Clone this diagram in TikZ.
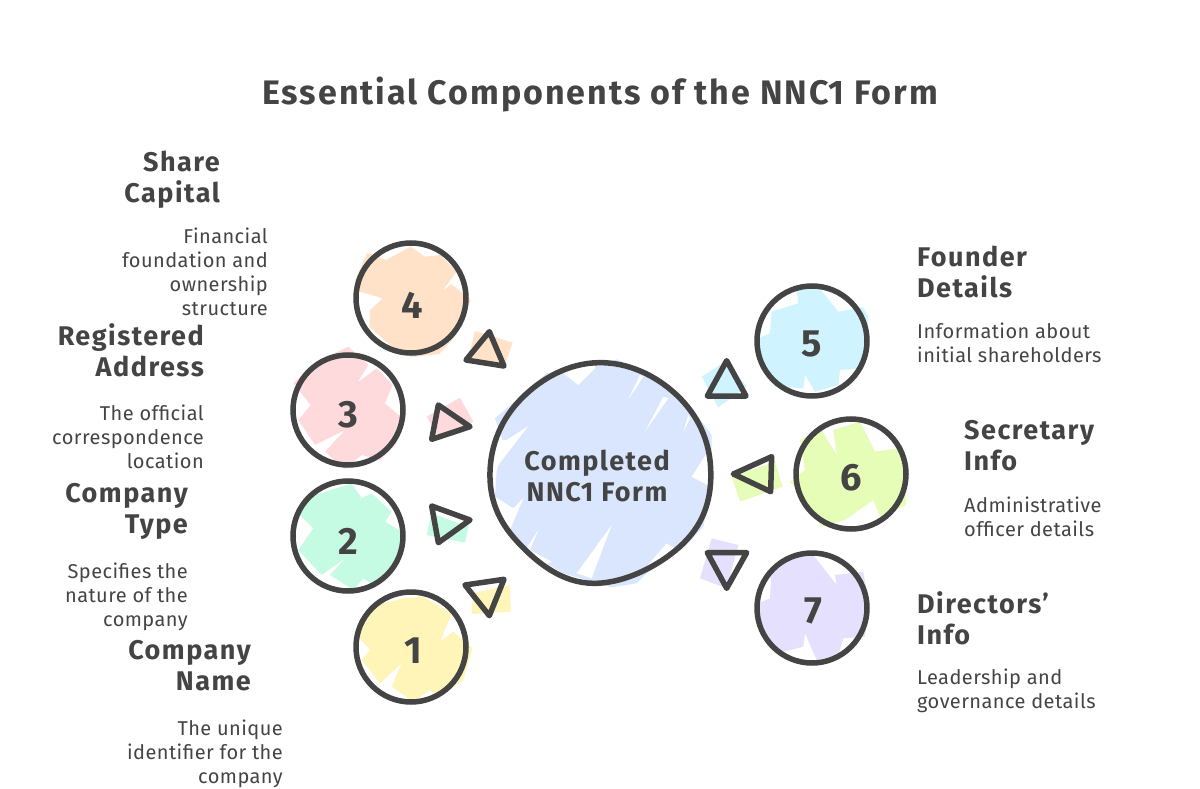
\documentclass[tikz,border=0pt]{standalone}
\usepackage{fontspec}
\setmainfont{Fira Sans}
\newfontfamily\titlefam[LetterSpace=5.8]{Fira Sans}
\newfontfamily\headfam[LetterSpace=5.5]{Fira Sans}
\newfontfamily\descfam[LetterSpace=2.2]{Fira Sans}
\definecolor{ink}{HTML}{444444}
\tikzset{
  ring/.style={circle,draw=ink,line width=5.5pt,inner sep=0pt,outer sep=0pt,minimum size=110pt},
  digit/.style={text=ink,font=\bfseries\fontsize{38}{38}\selectfont,inner sep=0pt},
  tri/.style={draw=ink,line width=5.5pt,line join=round},
  head/.style={text=ink,inner sep=0pt,font=\headfam\bfseries\fontsize{27}{31}\selectfont},
  desc/.style={text=ink,inner sep=0pt,font=\descfam\fontsize{20}{24}\selectfont},
  zone/.style n args={2}{shift={(#1,#2)},x=0.33333pt,y=-0.33333pt}
}
\begin{document}
\begin{tikzpicture}[x=1pt,y=-1pt]
\useasboundingbox (0,0) rectangle (1200,789);
% --- left upper zoom
\begin{scope}[zone={280}{230}]
\definecolor{p4}{HTML}{FFE2C8}\definecolor{p3}{HTML}{FFDADD}
\fill[p4] (262,68)--(318,90)--(392,50)--(435,80)--(480,75)--(530,125)--(488,182)--(515,162)--(572,210)--(550,270)--(525,320)--(478,372)--(395,382)--(330,345)--(268,290)--(270,240)--(308,205)--(240,185)--(225,150)--cycle;
\fill[p3] (205,350)--(265,405)--(232,458)--(290,415)--(338,465)--(315,520)--(368,565)--(350,640)--(300,690)--(245,675)--(195,718)--(135,665)--(195,600)--(105,645)--(55,570)--(92,525)--(40,460)--(80,420)--(120,390)--cycle;
\fill[p4] (585,303)--(698,338)--(670,418)--(565,385)--cycle;
\fill[p3] (440,560)--(540,503)--(580,575)--(480,630)--cycle;
\draw[tri] (628,305)--(672,408)--(558,390)--cycle;
\draw[tri] (475,525)--(570,590)--(455,628)--cycle;
\end{scope}
% --- left lower zoom
\begin{scope}[zone={280}{470}]
\definecolor{p2}{HTML}{C4FBE2}\definecolor{p1}{HTML}{FFF5B8}
\fill[p2] (90,80)--(215,40)--(245,85)--(275,70)--(335,125)--(315,155)--(365,185)--(350,290)--(280,345)--(250,325)--(220,360)--(150,315)--(195,265)--(125,315)--(55,240)--(100,175)--(50,125)--cycle;
\fill[p1] (290,405)--(370,385)--(430,380)--(515,430)--(480,515)--(520,485)--(578,535)--(550,630)--(480,680)--(450,660)--(400,695)--(335,650)--(365,580)--(300,640)--(245,570)--(270,540)--(235,500)--(260,450)--cycle;
\fill[p2] (455,130)--(565,170)--(555,218)--(440,195)--cycle;
\fill[p1] (578,370)--(690,345)--(692,425)--(575,432)--cycle;
\draw[tri] (455,108)--(570,150)--(475,218)--cycle;
\draw[tri] (555,345)--(672,328)--(628,437)--cycle;
\end{scope}
% --- right zoom
\begin{scope}[zone={690}{270}]
\definecolor{p5}{HTML}{CFF3FF}\definecolor{p6}{HTML}{E6FDB8}\definecolor{p7}{HTML}{E4E0FD}
\fill[p5] (320,62)--(385,50)--(445,125)--(520,112)--(535,140)--(525,260)--(505,295)--(450,300)--(445,345)--(375,365)--(345,315)--(340,355)--(255,350)--(215,285)--(205,205)--(240,190)--(245,125)--(325,100)--cycle;
\fill[p6] (330,510)--(395,480)--(440,555)--(430,480)--(510,455)--(555,545)--(625,535)--(645,620)--(648,705)--(570,740)--(550,690)--(465,750)--(395,770)--(345,690)--(300,635)--(345,600)--cycle;
\fill[p7] (370,855)--(440,945)--(435,915)--(520,905)--(535,1000)--(525,1100)--(460,1105)--(445,1155)--(380,1170)--(345,1090)--(340,1130)--(260,1150)--(215,1060)--(205,1000)--(240,985)--(245,895)--(320,855)--cycle;
\fill[p5] (35,320)--(110,272)--(170,350)--(85,412)--cycle;
\fill[p6] (125,620)--(255,575)--(278,650)--(150,695)--cycle;
\fill[p7] (65,805)--(145,825)--(110,955)--(30,925)--cycle;
\draw[tri] (110,272)--(168,378)--(52,378)--cycle;
\draw[tri] (245,560)--(242,665)--(130,612)--cycle;
\draw[tri] (52,848)--(170,848)--(110,955)--cycle;
\end{scope}
% --- centre
\begin{scope}[zone={480}{340}]
\definecolor{pm}{HTML}{D9E6FD}
\fill[pm] (45,235)--(120,170)--(200,100)--(250,90)--(345,75)--(410,58)--(435,70)--(560,130)--(640,210)--(695,285)--(695,445)--(670,560)--(610,625)--(500,700)--(470,730)--(395,742)--(250,700)--(130,630)--(80,570)--(45,470)--(50,395)--(70,305)--cycle;
\fill[white] (250,100)--(295,135)--(345,85)--(340,60)--(260,70)--cycle;
\fill[white] (490,110)--(445,178)--(480,105)--cycle;
\fill[white] (565,175)--(495,275)--(550,170)--cycle;
\fill[white] (630,235)--(610,275)--(625,225)--cycle;
\fill[white] (680,340)--(635,410)--(700,445)--(710,340)--cycle;
\fill[white] (145,258)--(80,300)--(40,300)--(40,395)--cycle;
\fill[white] (130,475)--(100,505)--(45,470)--(40,520)--(90,570)--cycle;
\fill[white] (175,570)--(150,630)--(215,665)--(180,680)--(130,640)--cycle;
\fill[white] (395,555)--(290,700)--(335,715)--cycle;
\fill[white] (560,610)--(500,680)--(610,640)--cycle;
\draw[ink,line width=5.5pt] plot[smooth cycle,tension=0.68] coordinates {(30,395)(125,175)(355,68)(590,165)(692,385)(610,610)(340,730)(112,605)};
\end{scope}
% --- rings
\node[ring] (c4) at (411,298) {};
\node[ring] (c3) at (348,410) {};
\node[ring] (c2) at (348,536) {};
\node[ring] (c1) at (411,647) {};
\node[ring] (c5) at (812,341) {};
\node[ring] (c6) at (851,474) {};
\node[ring] (c7) at (812,608) {};
\node[digit] (n4) at (412,305) {4};
\node[digit] (n3) at (348,415) {3};
\node[digit] (n2) at (348,541) {2};
\node[digit] (n1) at (413,651) {1};
\node[digit] (n5) at (812,344) {5};
\node[digit] (n6) at (851,478) {6};
\node[digit] (n7) at (813,611) {7};
% --- text
\node[text=ink,inner sep=0pt,font=\titlefam\bfseries\fontsize{34}{40}\selectfont] (title) at (600,94) {Essential Components of the NNC1 Form};
\node[head,align=center] (mainlabel) at (597,476) {Completed\\NNC1 Form};
\node[head,align=right,anchor=east] (h4) at (220,180) {Share\\Capital};
\node[desc,align=right,anchor=east] (d4) at (268,272) {Financial\\foundation and\\ownership\\structure};
\node[head,align=right,anchor=east] (h3) at (204,350) {Registered\\Address};
\node[desc,align=right,anchor=east] (d3) at (204,437) {The official\\correspondence\\location};
\node[head,align=right,anchor=east] (h2) at (188,511) {Company\\Type};
\node[desc,align=right,anchor=east] (d2) at (188,597) {Specifies the\\nature of the\\company};
\node[head,align=right,anchor=east] (h1) at (251,666) {Company\\Name};
\node[desc,align=right,anchor=east] (d1) at (283,754) {The unique\\identifier for the\\company};
\node[head,align=left,anchor=west] (h5) at (917,272) {Founder\\Details};
\node[desc,align=left,anchor=west] (d5) at (917,343) {Information about\\initial shareholders};
\node[head,align=left,anchor=west] (h6) at (964,446) {Secretary\\Info};
\node[desc,align=left,anchor=west] (d6) at (964,517) {Administrative\\officer details};
\node[head,align=left,anchor=west] (h7) at (917,618) {Directors’\\Info};
\node[desc,align=left,anchor=west] (d7) at (917,691) {Leadership and\\governance details};
\end{tikzpicture}
\end{document}
